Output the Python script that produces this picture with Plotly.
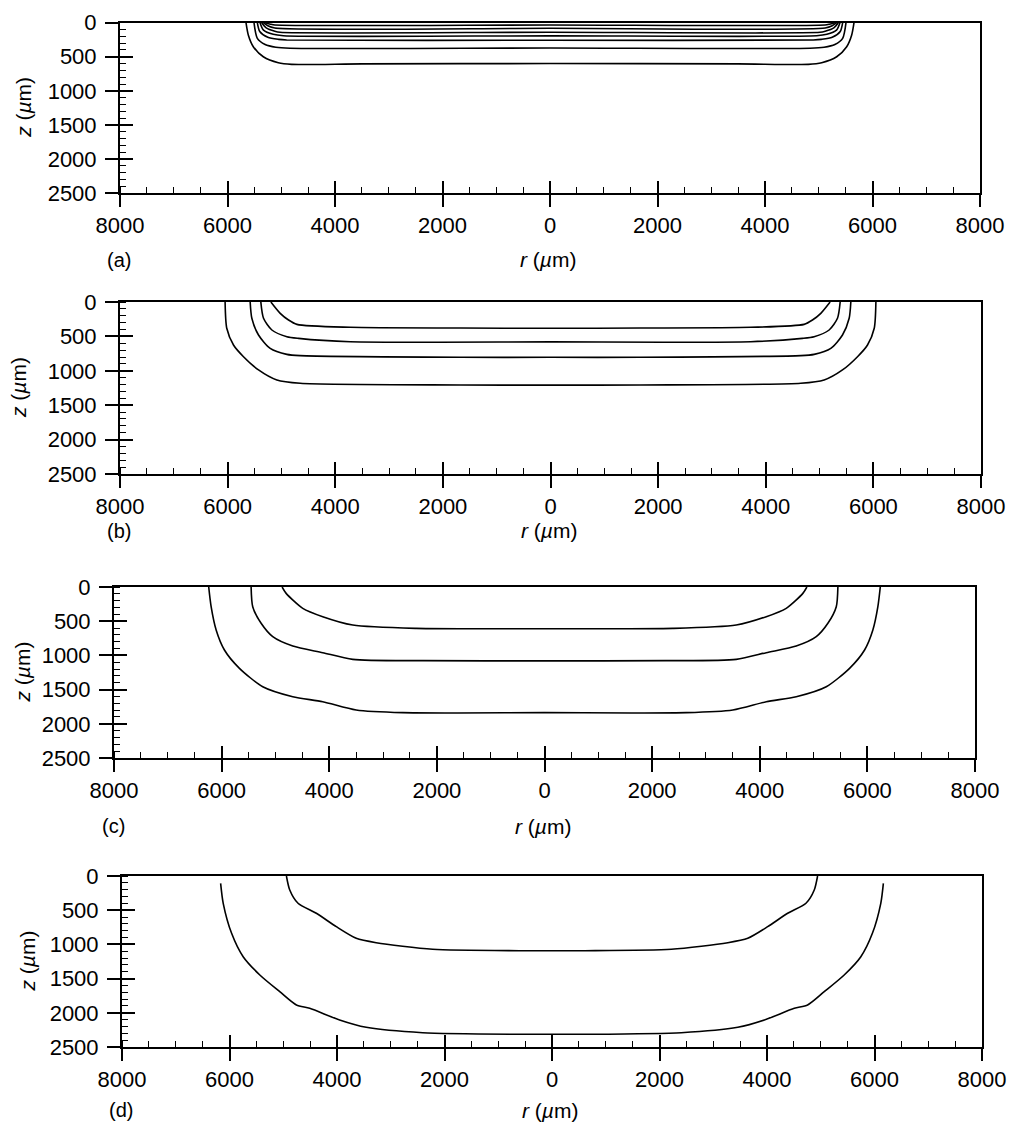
import plotly.graph_objects as go

W, H = 1011, 1122

# ---------------- data: half-profiles (r from edge to centre, z depth) ----------------
# panel (a)
a_r = [
    [5302, 5200, 5116, 0],
    [5334, 5250, 5120, 0],
    [5364, 5280, 5120, 5023, 0],
    [5395, 5330, 5150, 4961, 0],
    [5445, 5400, 5250, 5050, 4899, 0],
    [5507, 5445, 5300, 5100, 4837, 0],
    [5656, 5613, 5520, 5334, 5055, 4806, 3500, 0],
]
a_z = [
    [0, 22, 34, 34],
    [0, 45, 78, 82],
    [0, 75, 125, 141, 140],
    [0, 110, 170, 191, 193],
    [0, 130, 215, 245, 254, 258],
    [0, 230, 320, 360, 375, 372],
    [0, 181, 353, 500, 588, 612, 605, 600],
]
# panel (b)
b_r = [
    [5196, 5023, 4868, 4713, 3721, 1674, 0],
    [5383, 5333, 5178, 4899, 4682, 3721, 0],
    [5581, 5550, 5426, 5209, 4899, 4651, 1674, 0],
    [6047, 6016, 5891, 5705, 5426, 5085, 4651, 1674, 0],
]
b_z = [
    [0, 165, 262, 325, 368, 378, 382],
    [0, 237, 407, 504, 528, 577, 580],
    [0, 237, 480, 674, 761, 780, 804, 804],
    [0, 382, 625, 795, 988, 1134, 1182, 1206, 1208],
]
# panel (c)
c_r = [
    [4876, 4801, 4492, 4121, 3563, 2385, 0],
    [5452, 5422, 5266, 5050, 4678, 4121, 3563, 2262, 0],
    [6240, 6195, 6102, 5948, 5669, 5236, 4678, 4121, 3500, 2634, 0],
]
c_z = [
    [0, 93, 312, 434, 556, 605, 610],
    [0, 288, 531, 726, 863, 960, 1058, 1077, 1080],
    [0, 288, 629, 921, 1189, 1458, 1604, 1677, 1798, 1837, 1837],
]
# panel (d)
d_r = [
    [4941, 4879, 4725, 4384, 4013, 3642, 3271, 2221, 612, 0],
    [6165, 6117, 5961, 5746, 5436, 5065, 4755, 4508, 3952, 3457, 2406, 612, 0],
]
d_z = [
    [0, 205, 399, 545, 741, 911, 975, 1072, 1092, 1092],
    [107, 399, 838, 1180, 1447, 1691, 1886, 1934, 2105, 2212, 2291, 2314, 2314],
]

x_tickvals = [-8000, -6000, -4000, -2000, 0, 2000, 4000, 6000, 8000]
x_ticktext = ["8000", "6000", "4000", "2000", "0", "2000", "4000", "6000", "8000"]
y_tickvals = [0, 500, 1000, 1500, 2000, 2500]
y_ticktext = ["0", "500", "1000", "1500", "2000", "2500"]
panel_labels = ["(a)", "(b)", "(c)", "(d)"]

panels = [(a_r, a_z), (b_r, b_z), (c_r, c_z), (d_r, d_z)]

# ---------------- layout geometry (pixels) ----------------
xdom_px = [(120, 980), (120, 981), (114, 975), (122, 982)]
ydom_px = [(22.7, 193), (302, 474), (587, 758), (876, 1047)]
title_y = [260, 530, 826, 1110]
plabel_y = [260, 531, 826, 1110]
ztitle_x = [24, 18, 22, 27]

FONT = "Liberation Sans, Arial, sans-serif"
fig = go.Figure()

for i, (rr, zz) in enumerate(panels):
    n = i + 1
    xa = "x" if n == 1 else f"x{n}"
    ya = "y" if n == 1 else f"y{n}"
    for r, z in zip(rr, zz):
        xs = [-v for v in r] + [v for v in reversed(r[:-1])]
        ys = list(z) + list(reversed(z[:-1]))
        fig.add_trace(go.Scatter(x=xs, y=ys, mode="lines", xaxis=xa, yaxis=ya,
                                 line=dict(color="black", width=1.6, shape="spline", smoothing=0.7),
                                 hoverinfo="skip", showlegend=False))
    # empty trace for overlay (inside half of crossing major ticks)
    fig.add_trace(go.Scatter(x=[], y=[], xaxis=f"x{n+4}", yaxis=f"y{n+4}", showlegend=False))

layout = dict(width=W, height=H, margin=dict(l=0, r=0, t=0, b=0, autoexpand=False),
              paper_bgcolor="white", plot_bgcolor="white", showlegend=False,
              font=dict(family=FONT, color="black"))

annotations = []
for i in range(4):
    n = i + 1
    x0, x1 = xdom_px[i]
    y0, y1 = ydom_px[i]
    xd = [x0 / W, x1 / W]
    yd = [1 - y1 / H, 1 - y0 / H]
    kx = "xaxis" if n == 1 else f"xaxis{n}"
    ky = "yaxis" if n == 1 else f"yaxis{n}"
    xname = "x" if n == 1 else f"x{n}"
    yname = "y" if n == 1 else f"y{n}"
    layout[kx] = dict(domain=xd, anchor=yname, range=[-8000, 8000], tickmode="array",
                      tickvals=x_tickvals, ticktext=x_ticktext, ticks="outside", ticklen=12,
                      tickwidth=1.5, tickcolor="black", showline=True, linecolor="black",
                      linewidth=2, mirror=True, showgrid=False, zeroline=False,
                      ticklabelstandoff=0, automargin=False,
                      tickfont=dict(size=22, family=FONT, color="black"),
                      minor=dict(tickmode="linear", tick0=0, dtick=500, ticks="inside",
                                 ticklen=6, tickwidth=1.3, tickcolor="black", showgrid=False))
    layout[ky] = dict(domain=yd, anchor=xname, range=[2500, 0], tickmode="array",
                      tickvals=y_tickvals, ticktext=y_ticktext, ticks="outside", ticklen=13,
                      tickwidth=1.5, tickcolor="black", showline=True, linecolor="black",
                      linewidth=2, mirror=True, showgrid=False, zeroline=False,
                      ticklabelstandoff=4, automargin=False,
                      tickfont=dict(size=22, family=FONT, color="black"),
                      minor=dict(tickmode="linear", tick0=0, dtick=100, ticks="inside",
                                 ticklen=6, tickwidth=1.3, tickcolor="black", showgrid=False))
    # overlay axes providing the inner half of the crossing major ticks
    layout[f"xaxis{n+4}"] = dict(overlaying=xname, anchor=f"y{n+4}", range=[-8000, 8000],
                                  tickmode="array", tickvals=x_tickvals, ticks="inside",
                                  ticklen=12, tickwidth=1.5, tickcolor="black",
                                  showticklabels=False, showline=False, showgrid=False,
                                  zeroline=False, side="bottom", automargin=False)
    layout[f"yaxis{n+4}"] = dict(overlaying=yname, anchor=f"x{n+4}", range=[2500, 0],
                                  tickmode="array", tickvals=y_tickvals, ticks="inside",
                                  ticklen=13, tickwidth=1.5, tickcolor="black",
                                  showticklabels=False, showline=False, showgrid=False,
                                  zeroline=False, side="left", automargin=False)
    # titles and panel labels
    cx = (x0 + x1) / 2
    annotations.append(dict(text="<i>r</i> (<i>µ</i>m)", x=(cx - 2) / W, y=1 - title_y[i] / H,
                            xref="paper", yref="paper", xanchor="center", yanchor="middle",
                            showarrow=False, font=dict(size=21, family=FONT, color="black")))
    annotations.append(dict(text=panel_labels[i], x=(x0 - 1) / W, y=1 - plabel_y[i] / H,
                            xref="paper", yref="paper", xanchor="center", yanchor="middle",
                            showarrow=False, font=dict(size=20, family=FONT, color="black")))
    annotations.append(dict(text="<i>z</i> (<i>µ</i>m)", x=ztitle_x[i] / W,
                            y=1 - ((y0 + y1) / 2) / H, textangle=-90,
                            xref="paper", yref="paper", xanchor="center", yanchor="middle",
                            showarrow=False, font=dict(size=21, family=FONT, color="black")))

layout["annotations"] = annotations
fig.update_layout(**layout)
fig.write_html("out.html")
